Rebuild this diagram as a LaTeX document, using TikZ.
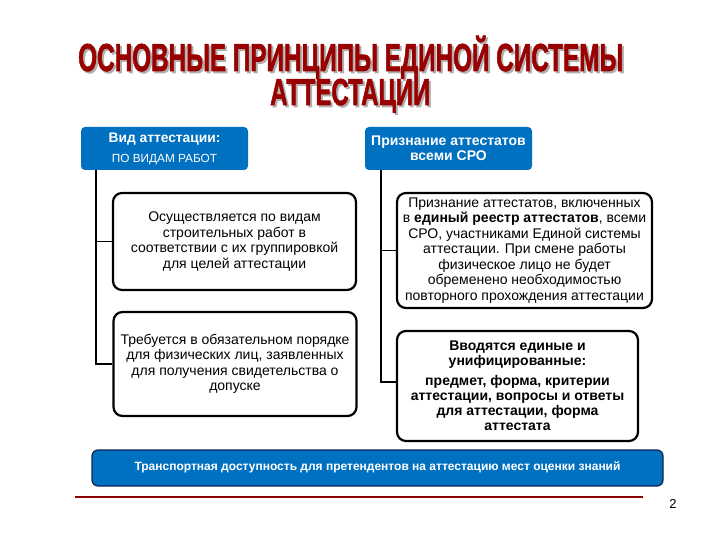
\documentclass[tikz,border=0pt]{standalone}
\usepackage{fontspec}
\setmainfont{Liberation Sans}
\newfontfamily\ttlfont{Liberation Sans}[BoldFeatures={FakeBold=2}]
\definecolor{hdrblue}{RGB}{0,112,192}
\definecolor{titlered}{RGB}{153,0,0}
\definecolor{shadowgray}{RGB}{175,175,175}
\definecolor{navyedge}{RGB}{16,36,80}
\definecolor{rulered}{RGB}{140,0,0}
\newcommand\ttlraw[3]{\resizebox{#2}{\height}{\ttlfont\bfseries\fontsize{#3}{#3}\selectfont #1}}
\newcommand\mytitle[3]{\makebox[0pt][l]{\hspace{2pt}\raisebox{-2pt}{\color{shadowgray}\ttlraw{#1}{#2}{#3}}}{\color{titlered}\ttlraw{#1}{#2}{#3}}}
\begin{document}
\begin{tikzpicture}[x=1pt,y=-1pt,
  hdr/.style={fill=hdrblue, rounded corners=4pt, minimum width=167pt, minimum height=43pt,
    text=white, inner sep=0pt, align=center},
  card/.style={draw=black, line width=2.2pt, fill=white, rounded corners=9pt,
    inner sep=0pt, align=center, font=\fontsize{14}{15.5}\selectfont},
  conn/.style={draw=black, line width=1.8pt},
  ttl/.style={inner sep=0pt, anchor=base west}]
\useasboundingbox (0,0) rectangle (720,540);

% title
\node[ttl] (t1) at (78,71) {\mytitle{ОСНОВНЫЕ ПРИНЦИПЫ ЕДИНОЙ СИСТЕМЫ}{545pt}{39}};
\node[ttl] (t2) at (270,105) {\mytitle{АТТЕСТАЦИИ}{160pt}{37.5}};

% headers
\node[hdr, font=\bfseries\fontsize{13.8}{15}\selectfont] (h1) at (164.5,148.5)
  {Вид аттестации:\\[5pt]
  \mdseries\fontsize{11.8}{13}\selectfont ПО ВИДАМ РАБОТ};
\node[hdr, font=\bfseries\fontsize{14}{14.5}\selectfont] (h2) at (448.5,148.5)
  {Признание аттестатов\\ всеми СРО};

% cards
\node[card, minimum width=243pt, minimum height=97pt] (l1) at (234.5,241.5)
  {Осуществляется по видам\\ строительных работ в\\ соответствии с их группировкой\\ для целей аттестации};
\node[card, minimum width=243pt, minimum height=104pt] (l2) at (235,364)
  {Требуется в обязательном порядке\\ для физических лиц, заявленных\\ для получения свидетельства о\\ допуске};
\node[card, minimum width=255pt, minimum height=115pt] (r1) at (524.5,250.5)
  {Признание аттестатов, включенных\\ в \textbf{единый реестр аттестатов}, всеми\\ СРО, участниками Единой системы\\ аттестации. При смене работы\\ физическое лицо не будет\\ обременено необходимостью\\ повторного прохождения аттестации};
\node[card, minimum width=241pt, minimum height=110pt, font=\bfseries\fontsize{14}{15}\selectfont] (r2) at (517.5,386)
  {Вводятся единые и\\ унифицированные:\\[5pt] предмет, форма, критерии\\ аттестации, вопросы и ответы\\ для аттестации, форма\\ аттестата};

% connectors
\draw[conn] ([xshift=15pt]h1.south west) |- (l1.west);
\draw[conn] ([xshift=15pt]h1.south west) |- (l2.west);
\draw[conn] ([xshift=16pt]h2.south west) |- (r1.west);
\draw[conn] ([xshift=16pt]h2.south west) |- ([yshift=4pt]r2.west);

% bottom bar
\node[draw=navyedge, line width=1.2pt, fill=hdrblue, rounded corners=6pt,
  minimum width=571pt, minimum height=36pt, inner sep=0pt, text=white,
  font=\bfseries\fontsize{12}{13}\selectfont] (b) at (377.5,468)
  {\raisebox{3pt}{Транспортная доступность для претендентов на аттестацию мест оценки знаний}};

% rule and page number
\draw[rulered, line width=2.5pt] (75,497) -- (643,497);
\node[inner sep=0pt, font=\fontsize{13}{15}\selectfont] (pg) at (673,504) {2};
\end{tikzpicture}
\end{document}
